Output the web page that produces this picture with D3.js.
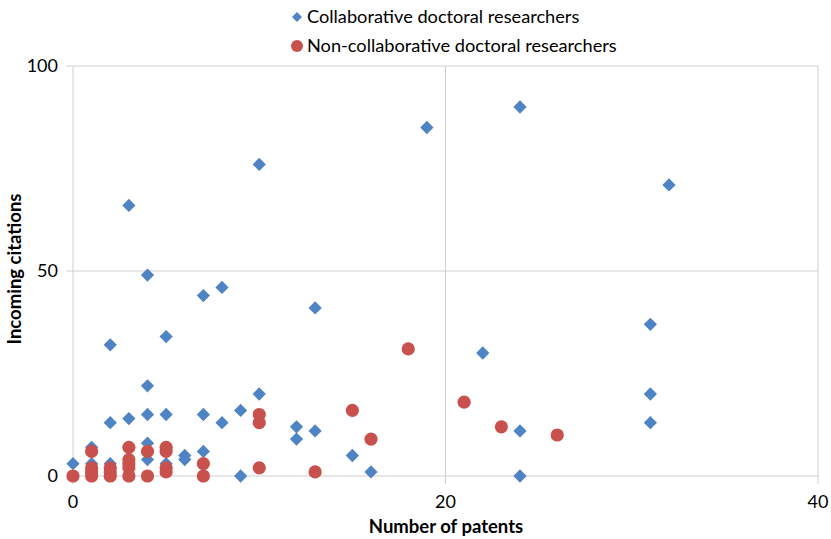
<!DOCTYPE html>
<html><head><meta charset="utf-8">
<script src="https://cdn.jsdelivr.net/npm/d3@7"></script>
<style>body{margin:0;background:#fff}svg{display:block}text{font-family:Lato,"Open Sans",sans-serif;fill:#000}</style>
</head><body><svg id="c" width="831" height="539"></svg>
<script>
const seriesNames = ["Collaborative doctoral researchers", "Non-collaborative doctoral researchers"];
const collabX = [0,1,1,2,2,2,3,3,4,4,4,4,4,5,5,5,6,6,7,7,7,8,8,9,9,10,10,12,12,13,13,15,16,19,22,24,24,24,31,31,31,32];
const collabY = [3,7,3,32,13,3,66,14,49,22,15,8,4,34,15,3,5,4,44,15,6,46,13,16,0,76,20,12,9,41,11,5,1,85,30,90,11,0,37,20,13,71];
const nonX = [0,1,1,1,1,2,2,2,3,3,3,3,3,4,4,5,5,5,5,7,7,10,10,10,13,15,16,18,21,23,26];
const nonY = [0,6,2,1,0,2,1,0,7,4,3,2,0,6,0,7,6,2,1,3,0,15,13,2,1,16,9,31,18,12,10];
const xTicks = [0,20,40];
const yTicks = [0,50,100];
const xTitle = "Number of patents";
const yTitle = "Incoming citations";
const colors = ["#4F84C4", "#C9514D"];

const svg = d3.select("#c");
const L = 73, R = 818, T = 66, B = 476;
const x = d3.scaleLinear().domain([0,40]).range([L,R]);
const y = d3.scaleLinear().domain([0,100]).range([B,T]);
const grid = "#CFCFCF";

// horizontal grid + ticks
yTicks.forEach(v => {
  svg.append("line").attr("x1", L-7).attr("x2", R).attr("y1", y(v)).attr("y2", y(v))
    .attr("stroke", grid).attr("stroke-width", 1);
  svg.append("text").attr("x", 58).attr("y", y(v)).attr("dy", "0.35em")
    .attr("text-anchor", "end").attr("font-size", 18).text(v);
});
xTicks.forEach(v => {
  svg.append("line").attr("x1", x(v)).attr("x2", x(v)).attr("y1", T).attr("y2", B+8)
    .attr("stroke", grid).attr("stroke-width", 1);
  svg.append("text").attr("x", x(v)).attr("y", 502).attr("dy", "0.35em")
    .attr("text-anchor", "middle").attr("font-size", 18).text(v);
});

// axis titles
svg.append("text").attr("x", 446).attr("y", 527).attr("dy", "0.35em")
  .attr("text-anchor", "middle").attr("font-size", 18.5).attr("font-weight", "bold").text(xTitle);
svg.append("text").attr("transform", "translate(15,269) rotate(-90)").attr("dy", "0.35em")
  .attr("text-anchor", "middle").attr("font-size", 18.5).attr("font-weight", "bold").text(yTitle);

// series
const diamond = d3.symbol().type(d3.symbolSquare).size(88)();
const collab = collabX.map((v,i) => ({x: v, y: collabY[i]}));
const non = nonX.map((v,i) => ({x: v, y: nonY[i]}));
svg.append("g").selectAll("path").data(collab).join("path")
  .attr("d", diamond)
  .attr("transform", d => `translate(${x(d.x)},${y(d.y)}) rotate(45)`)
  .attr("fill", colors[0]);
svg.append("g").selectAll("circle").data(non).join("circle")
  .attr("cx", d => x(d.x)).attr("cy", d => y(d.y)).attr("r", 6.6)
  .attr("fill", colors[1]);

// legend
const lg = svg.append("g");
lg.append("path").attr("d", d3.symbol().type(d3.symbolSquare).size(50)())
  .attr("transform", "translate(297,17) rotate(45)").attr("fill", colors[0]);
lg.append("text").attr("x", 307).attr("y", 17).attr("dy", "0.35em").attr("font-size", 18.2).text(seriesNames[0]);
lg.append("circle").attr("cx", 297).attr("cy", 46).attr("r", 6).attr("fill", colors[1]);
lg.append("text").attr("x", 307).attr("y", 46).attr("dy", "0.35em").attr("font-size", 18.2).text(seriesNames[1]);
</script></body></html>
